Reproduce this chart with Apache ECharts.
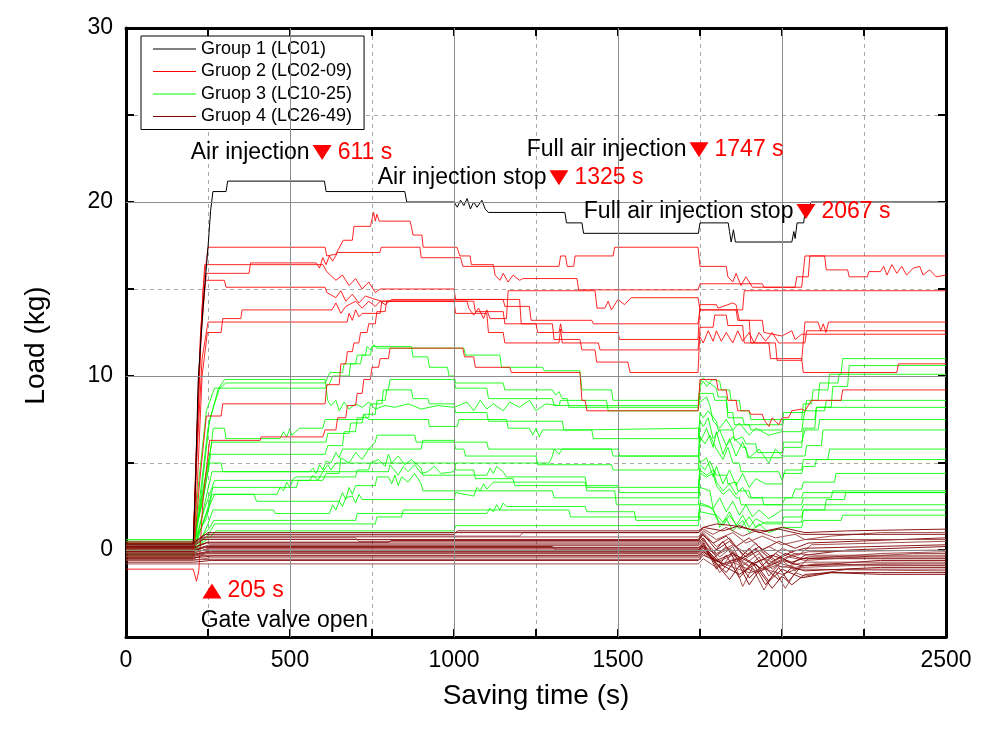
<!DOCTYPE html>
<html>
<head>
<meta charset="utf-8">
<script src="https://cdn.jsdelivr.net/npm/echarts@6/dist/echarts.min.js"></script>
<style>html,body{margin:0;padding:0;background:#fff}#c{width:994px;height:736px}</style>
</head>
<body>
<div id="c"></div>
<script>
const FONT = "'Liberation Sans', Arial, Helvetica, sans-serif";
const legendNames = ['Group 1 (LC01)', 'Gruop 2 (LC02-09)', 'Gruop 3 (LC10-25)', 'Gruop 4 (LC26-49)'];
const groupColors = ['#000000', '#ff0000', '#00ff00', '#800000'];
const xTicks = [0, 500, 1000, 1500, 2000, 2500];
const yTicks = [0, 10, 20, 30];
const solidX = [500, 1000, 1500, 2000];
const solidY = [0, 10, 20];

// Group 1 (LC01)
const group1Line = [[0,0.3],[205,0.3],[212,4],[220,9.7],[235,14],[250,17.4],[258,19.5],[265,20.6],[305,20.6],[310,21.2],[605,21.2],[610,20.6],[850,20.6],[856,20.0],[1000,20.0],[1010,19.7],[1020,20.1],[1030,19.8],[1040,20.2],[1050,19.6],[1060,20.0],[1070,19.7],[1085,20.1],[1095,19.6],[1105,19.4],[1338,19.4],[1343,18.8],[1390,18.8],[1395,18.2],[1745,18.2],[1750,18.8],[1836,18.8],[1840,18.3],[1845,17.7],[1852,18.4],[1858,17.7],[2030,17.7],[2036,18.3],[2040,17.9],[2046,18.8],[2066,18.8],[2070,19.4],[2082,19.4],[2088,20.0],[2500,20.0]];

// Group 2 (LC02-09)
const group2Lines = [
 [[0,0.3],[205,0.3],[212,4],[222,10],[235,15],[250,17.4],[607,17.4],[612,16.9],[640,17.0],[662,17.8],[690,17.8],[695,18.6],[745,18.6],[750,19.0],[755,19.4],[760,18.9],[765,19.3],[772,18.9],[866,18.9],[870,18.6],[875,18.1],[902,18.1],[906,17.4],[1009,17.4],[1018,16.9],[1049,16.9],[1053,16.4],[1120,16.4],[1125,15.8],[1140,15.5],[1150,15.9],[1165,15.4],[1180,15.8],[1200,15.5],[1210,15.6],[1375,15.6],[1380,14.95],[1744,14.95],[1750,15.3],[1940,15.3],[1945,15.1],[2060,15.1],[2070,16.9],[2500,16.9]],
 [[0,0.1],[205,0.1],[215,6],[230,13],[245,15.9],[375,15.9],[380,16.5],[580,16.5],[590,16.2],[600,16.8],[610,16.4],[620,16.9],[630,16.6],[645,17.1],[774,17.1],[778,17.4],[896,17.4],[900,16.8],[1020,16.8],[1027,16.3],[1320,16.3],[1325,16.9],[1340,16.9],[1345,16.3],[1365,16.3],[1369,16.9],[1485,16.9],[1490,17.4],[1744,17.4],[1750,16.3],[1830,16.3],[1835,15.7],[1850,15.4],[1860,15.9],[1875,15.2],[1890,15.7],[1910,15.1],[2040,15.1],[2045,15.7],[2080,15.7],[2085,16.9],[2130,16.9],[2135,16.1],[2200,16.1],[2205,15.7],[2260,15.7],[2265,16.0],[2300,16.0],[2310,16.3],[2320,15.8],[2335,16.4],[2350,15.9],[2365,16.3],[2380,15.8],[2400,16.2],[2420,16.3],[2430,15.8],[2450,16.1],[2470,15.7],[2500,15.8]],
 [[0,0.0],[205,0.0],[215,5],[228,12],[242,15.5],[300,15.5],[305,15.1],[607,15.1],[612,14.8],[640,14.5],[655,14.9],[670,14.3],[690,14.7],[710,14.2],[730,14.6],[760,14.4],[780,14.3],[1040,14.3],[1045,13.9],[1060,13.5],[1075,13.9],[1090,13.3],[1100,13.8],[1110,13.3],[1160,13.3],[1165,14.9],[1430,14.9],[1436,13.9],[1460,13.9],[1470,14.3],[1480,13.8],[1500,14.4],[1520,14.1],[1540,14.5],[1744,14.5],[1750,13.8],[1880,13.8],[1885,14.9],[2500,14.9]],
 [[0,-0.1],[205,-0.1],[218,4],[232,10],[248,12.5],[290,12.5],[295,13.3],[350,13.3],[354,13.8],[628,13.8],[640,14.2],[655,13.6],[670,14.0],[700,14.3],[720,13.9],[740,14.3],[760,14.0],[775,14.3],[790,14.1],[810,14.4],[1150,14.4],[1155,14.0],[1230,14.0],[1235,13.2],[1420,13.2],[1425,13.0],[1744,13.0],[1750,13.8],[1860,13.8],[1865,13.2],[1900,13.2],[1905,11.9],[1980,11.9],[1985,10.9],[2060,10.9],[2070,13.1],[2110,13.1],[2118,12.6],[2126,13.0],[2134,12.5],[2142,13.1],[2500,13.1]],
 [[0,0.2],[205,0.2],[215,5],[232,11],[250,13.1],[674,13.1],[680,13.6],[690,13.2],[700,13.8],[710,13.4],[720,13.6],[775,13.6],[780,14.3],[1000,14.3],[1005,13.6],[1100,13.6],[1105,12.5],[1150,12.5],[1155,11.9],[1320,11.9],[1325,12.7],[1330,11.9],[1440,11.9],[1445,11.5],[1744,11.5],[1748,12.3],[1760,11.9],[1775,12.6],[1790,12.0],[1800,12.6],[1815,12.0],[1830,12.5],[1850,11.9],[1865,12.6],[1880,12.0],[1900,12.5],[1915,11.9],[1930,12.5],[1950,12.0],[1970,12.5],[1990,11.9],[2070,11.9],[2075,12.6],[2500,12.6]],
 [[0,-0.4],[205,-0.4],[225,4],[245,7.7],[290,7.7],[295,8.4],[607,8.4],[612,9.5],[650,9.5],[655,10.7],[670,10.7],[675,11.4],[690,11.4],[695,11.9],[710,11.9],[715,12.5],[735,12.5],[740,13.0],[760,13.0],[765,13.7],[790,13.7],[795,14.3],[1060,14.3],[1065,13.7],[1150,13.7],[1155,13.0],[1250,13.0],[1255,12.5],[1320,12.5],[1325,13.0],[1330,12.5],[1500,12.5],[1505,12.1],[1744,12.1],[1750,14.1],[1800,14.1],[1805,13.9],[1850,14.2],[1860,14.1],[1870,13.2],[1940,13.2],[1945,12.5],[2000,12.3],[2030,12.6],[2040,12.1],[2060,12.4],[2500,12.4]],
 [[0,-1.1],[205,-1.1],[215,-1.8],[222,-1.2],[235,3],[255,6.3],[409,6.3],[412,6.5],[600,6.5],[607,6.9],[640,6.9],[645,7.6],[670,7.6],[675,8.3],[700,8.3],[705,9.0],[720,9.0],[725,9.8],[745,9.8],[750,10.5],[770,10.5],[775,11.0],[800,11.0],[805,11.6],[1027,11.6],[1032,11.1],[1060,11.1],[1065,10.5],[1170,10.5],[1175,10.2],[1384,10.2],[1390,8.6],[1400,8.6],[1405,8.0],[1744,8.0],[1750,9.8],[1800,9.8],[1805,9.2],[1830,9.2],[1835,8.6],[1860,8.6],[1865,8.0],[1900,8.0],[1905,7.8],[1940,7.8],[1945,7.5],[1960,7.1],[1970,7.6],[1990,7.2],[2000,7.6],[2020,7.6],[2030,8.0],[2060,8.1],[2070,8.0],[2090,8.6],[2180,8.6],[2185,9.2],[2500,9.2]],
 [[0,0.4],[205,0.4],[213,5],[226,12],[240,16.4],[600,16.4],[612,16.0],[640,15.5],[660,15.8],[680,15.2],[700,15.6],[720,15.0],[740,15.4],[760,14.8],[775,15.0],[1000,15.0],[1005,14.4],[1200,14.4],[1205,13.0],[1300,13.0],[1305,12.1],[1384,12.1],[1390,11.5],[1430,11.5],[1435,10.8],[1530,10.8],[1537,10.2],[1744,10.2],[1750,12.8],[1790,12.8],[1795,13.5],[1830,13.5],[1835,12.9],[1880,12.9],[1885,11.9],[1960,11.9],[1965,11.0],[2060,11.0],[2065,10.2],[2350,10.2],[2355,10.7],[2500,10.7]]
];

// Group 3 (LC10-25)
const group3Lines = [
 [[0,0.2],[205,0.2],[225,3],[250,7],[280,9.2],[300,9.8],[607,9.8],[615,8.6],[625,8.3],[640,8.6],[650,8.0],[665,8.5],[680,8.1],[700,8.4],[720,8.2],[740,8.5],[760,8.1],[790,8.3],[820,8.2],[860,8.4],[900,8.1],[950,8.3],[1000,8.2],[1040,8.5],[1060,8.0],[1080,8.6],[1100,8.1],[1120,8.4],[1150,8.0],[1170,8.5],[1200,8.2],[1230,8.6],[1250,8.0],[1280,8.4],[1320,8.3],[1325,8.6],[1465,8.6],[1470,8.0],[1745,8.0],[1750,9.6],[1760,9.9],[1775,9.6],[1790,9.8],[1810,9.7],[1815,9.2],[1840,9.2],[1845,8.6],[1870,8.6],[1875,8.0],[1900,8.0],[1905,7.5],[2065,7.5],[2070,8.0],[2130,8.0],[2135,8.6],[2500,8.6]],
 [[0,0.0],[205,0],[228,3],[255,7.5],[285,9.3],[305,9.6],[607,9.6],[622,10.2],[660,10.2],[665,10.7],[700,10.7],[705,11.2],[730,11.2],[735,11.7],[745,11.5],[755,11.8],[765,11.6],[1030,11.6],[1035,11.2],[1140,11.2],[1145,10.5],[1270,10.5],[1275,10.3],[1384,10.3],[1390,9.2],[1480,9.2],[1485,8.6],[1745,8.6],[1750,9.4],[1760,9.7],[1770,9.4],[1780,9.6],[1800,9.3],[1805,8.8],[1830,8.8],[1835,7.9],[1850,7.9],[1855,7.2],[1900,7.2],[1905,6.9],[2000,6.9],[2005,7.5],[2060,7.5],[2065,8.4],[2090,8.4],[2095,9.2],[2140,9.2],[2145,10.1],[2180,10.1],[2185,11.0],[2500,11.0]],
 [[0,0.3],[205,0.3],[222,4],[245,8],[270,9.3],[607,9.3],[622,9.6],[630,10.0],[680,10.0],[685,10.7],[715,10.7],[720,11.2],[745,11.2],[750,11.7],[870,11.7],[875,11.1],[920,11.1],[925,10.5],[980,10.5],[985,10.0],[1000,10.0],[1005,9.6],[1150,9.6],[1155,9.2],[1300,9.2],[1310,8.9],[1320,9.1],[1330,8.7],[1345,8.7],[1350,8.2],[1745,8.2],[1750,9.0],[1790,9.0],[1795,8.6],[1830,8.6],[1835,7.6],[1880,7.6],[1885,7.2],[2000,7.2],[2005,7.9],[2070,7.9],[2075,8.6],[2110,8.6],[2115,9.6],[2170,9.6],[2175,10.1],[2500,10.1]],
 [[0,0.1],[205,0.1],[230,3],[260,6.0],[266,7.0],[300,7.0],[305,6.4],[470,6.4],[480,6.8],[490,6.5],[500,7.0],[505,6.6],[530,7.0],[600,7.0],[607,7.5],[720,7.5],[725,7.8],[740,7.5],[922,7.5],[925,7.1],[1010,7.1],[1015,7.5],[1160,7.5],[1165,7.0],[1230,7.0],[1240,6.6],[1250,7.0],[1260,6.5],[1270,6.9],[1384,6.9],[1390,7.0],[1745,7.0],[1750,6.2],[1770,7.0],[1790,5.9],[1800,6.8],[1820,5.5],[1840,6.4],[1860,5.4],[1880,6.2],[1900,5.3],[1930,5.8],[1960,5.0],[1980,5.8],[2000,5.4],[2070,5.4],[2075,6.0],[2120,6.0],[2125,6.9],[2500,6.9]],
 [[0,-0.1],[205,-0.1],[232,3],[262,6.2],[610,6.2],[615,6.7],[680,6.7],[685,7.3],[720,7.3],[725,7.8],[760,7.8],[765,8.6],[790,8.6],[795,9.2],[870,9.2],[875,8.7],[920,8.7],[925,8.4],[1000,8.4],[1005,7.9],[1100,7.9],[1105,7.4],[1330,7.4],[1335,6.9],[1420,6.9],[1425,6.4],[1745,6.4],[1750,7.9],[1760,7.6],[1775,8.0],[1800,7.4],[1805,6.9],[1850,6.9],[1855,6.3],[1880,6.5],[1890,6.1],[1920,6.1],[1925,5.6],[2000,5.6],[2005,6.2],[2060,6.2],[2070,6.9],[2110,6.9],[2115,7.5],[2500,7.5]],
 [[0,0.4],[205,0.4],[235,3],[255,5.0],[290,5.0],[295,4.5],[560,4.5],[570,4.7],[580,4.4],[590,4.9],[600,4.6],[610,5.1],[625,5.0],[640,5.6],[650,5.3],[660,5.8],[900,5.8],[905,6.3],[1000,6.3],[1005,5.8],[1030,5.8],[1035,5.4],[1250,5.4],[1255,4.9],[1480,4.9],[1485,4.6],[1745,4.6],[1750,6.5],[1765,6.1],[1780,6.6],[1800,5.8],[1820,5.2],[1835,5.9],[1850,5.0],[1870,5.0],[1875,4.5],[1990,4.5],[2000,4.0],[2010,4.6],[2060,4.6],[2065,5.2],[2140,5.2],[2145,5.8],[2500,5.8]],
 [[0,-0.3],[205,-0.3],[238,2.5],[262,4.5],[800,4.5],[805,4.9],[830,4.3],[845,4.8],[860,4.5],[880,4.9],[900,4.4],[920,4.5],[940,4.8],[960,4.4],[1000,4.5],[1005,5.0],[1290,5.0],[1300,5.4],[1305,5.8],[1320,5.5],[1330,5.8],[1480,5.8],[1485,5.4],[1745,5.4],[1750,5.0],[1770,5.3],[1790,4.2],[1800,4.8],[1820,3.8],[1840,4.6],[1860,3.7],[1880,4.4],[1900,3.6],[1920,4.1],[1950,3.8],[2000,3.8],[2005,4.4],[2060,4.4],[2065,4.8],[2100,4.8],[2105,5.2],[2500,5.2]],
 [[0,0.2],[205,0.2],[240,2.4],[270,4.0],[560,4.0],[570,4.3],[585,4.0],[600,4.5],[615,4.9],[625,4.6],[640,5.0],[1000,5.0],[1005,4.6],[1060,4.6],[1065,4.1],[1180,4.1],[1185,3.7],[1500,3.7],[1505,3.3],[1745,3.3],[1750,4.9],[1765,4.6],[1780,5.1],[1800,4.3],[1830,4.3],[1835,3.8],[1860,3.9],[1865,3.4],[1900,3.4],[1905,3.0],[2030,3.0],[2040,3.5],[2060,3.5],[2065,3.9],[2160,3.9],[2165,4.4],[2500,4.4]],
 [[0,-0.2],[205,-0.2],[242,2],[270,3.2],[460,3.2],[470,3.6],[480,3.4],[490,3.9],[500,3.6],[510,4.1],[520,4.2],[700,4.2],[705,4.6],[740,4.6],[745,5.0],[770,5.2],[790,4.8],[800,5.5],[810,5.0],[830,5.4],[850,4.9],[870,5.2],[900,4.7],[905,4.3],[1100,4.3],[1110,4.7],[1120,4.4],[1130,4.8],[1150,4.5],[1160,4.2],[1400,4.2],[1405,3.6],[1745,3.6],[1750,4.6],[1770,4.3],[1790,4.6],[1800,3.9],[1820,3.4],[1840,3.8],[1860,3.2],[1880,3.6],[1900,3.0],[1940,3.0],[1945,2.6],[2060,2.6],[2065,3.0],[2150,3.0],[2155,3.4],[2500,3.4]],
 [[0,0.5],[205,0.5],[245,1.8],[262,3.2],[390,3.2],[398,2.8],[650,2.8],[660,3.3],[670,2.9],[680,3.6],[690,3.2],[700,3.7],[760,3.7],[765,4.2],[800,4.2],[810,3.8],[820,4.3],[830,3.7],[840,4.2],[860,3.9],[880,4.4],[900,3.8],[905,3.4],[1300,3.4],[1305,3.0],[1745,3.0],[1750,4.4],[1770,4.2],[1790,4.4],[1800,3.7],[1820,3.2],[1840,3.5],[1860,3.0],[1870,3.0],[1875,2.6],[2000,2.6],[2010,3.0],[2060,3.0],[2065,3.3],[2500,3.3]],
 [[0,-0.4],[205,-0.4],[250,1.5],[265,2.3],[450,2.3],[455,2.1],[620,2.1],[630,2.6],[640,2.3],[650,2.8],[660,2.5],[670,3.0],[690,3.1],[700,2.7],[710,3.2],[720,2.9],[1000,2.9],[1005,3.3],[1060,3.1],[1070,3.6],[1080,3.4],[1090,3.8],[1100,3.5],[1120,3.9],[1400,3.9],[1405,3.4],[1490,3.4],[1495,2.6],[1745,2.6],[1750,3.6],[1780,3.4],[1790,2.4],[1810,3.0],[1830,2.2],[1850,2.8],[1870,2.0],[1890,2.6],[1910,1.9],[1930,2.3],[1960,1.8],[2000,2.3],[2060,2.3],[2065,2.6],[2500,2.6]],
 [[0,0.3],[205,0.3],[252,1.2],[268,1.7],[700,1.7],[705,2.1],[1100,2.1],[1110,2.4],[1120,2.2],[1130,2.6],[1140,2.3],[1150,2.7],[1160,2.5],[1400,2.5],[1405,2.2],[1550,2.2],[1555,1.7],[1745,1.7],[1750,2.7],[1780,2.5],[1800,2.0],[1820,1.6],[1840,2.2],[1860,1.4],[1880,2.0],[1900,1.3],[1920,1.8],[1950,1.5],[2000,1.5],[2005,1.9],[2060,1.9],[2065,2.3],[2500,2.3]],
 [[0,-0.1],[205,-0.1],[255,1.0],[270,1.5],[760,1.5],[765,1.9],[840,1.9],[845,2.3],[1350,2.3],[1355,1.9],[1745,1.9],[1750,2.6],[1790,2.4],[1800,1.8],[1820,1.4],[1840,2.0],[1870,1.2],[1900,1.9],[1920,1.3],[1950,1.6],[2060,1.6],[2065,2.3],[2130,2.3],[2135,2.9],[2190,2.9],[2195,3.3],[2500,3.3]],
 [[0,0.0],[205,0],[260,0.8],[275,1.1],[1000,1.1],[1005,1.4],[1745,1.4],[1750,2.2],[1800,2.0],[1810,1.3],[1830,1.8],[1850,1.1],[1880,1.7],[1900,1.0],[1930,1.5],[1960,1.0],[2000,1.3],[2060,1.3],[2065,1.7],[2180,1.7],[2185,2.0],[2500,2.0]],
 [[0,0.6],[205,0.6],[236,3],[258,5.5],[607,5.5],[615,6.0],[660,6.0],[665,6.8],[700,6.8],[705,7.6],[740,7.6],[745,8.4],[780,8.4],[785,9.2],[800,9.2],[805,9.8],[1000,9.8],[1005,9.3],[1100,9.3],[1105,8.7],[1300,8.7],[1305,8.3],[1745,8.3],[1750,8.5],[1770,8.8],[1780,8.3],[1790,7.4],[1810,7.0],[1830,7.5],[1850,6.9],[1870,7.3],[1900,6.6],[1920,7.0],[1960,6.6],[2000,6.8],[2060,6.8],[2065,7.5],[2100,7.5],[2105,8.2],[2500,8.2]],
 [[0,0.1],[205,0.1],[244,2],[265,3.6],[520,3.6],[525,4.0],[600,4.0],[610,4.4],[650,4.4],[655,5.3],[680,5.0],[700,5.6],[720,5.2],[740,5.8],[760,6.2],[765,6.6],[880,6.6],[885,6.2],[1100,6.2],[1105,5.8],[1500,5.8],[1505,5.4],[1745,5.4],[1750,7.4],[1760,7.1],[1775,7.6],[1790,6.4],[1810,6.9],[1830,6.0],[1850,6.5],[1880,5.9],[1890,5.9],[1895,5.3],[2000,5.3],[2005,5.9],[2060,5.9],[2065,7.0],[2100,7.0],[2105,8.2],[2150,8.2],[2155,9.4],[2200,9.4],[2205,10.6],[2500,10.6]]
];

// Group 4 (LC26-49)
const group4Lines = [
 [[0,0.4],[205,0.4],[240,0.9],[1000,0.9],[1010,1.1],[1745,1.1],[1760,1.3],[1800,1.5],[1850,1.4],[1900,1.2],[1950,1.1],[2000,1.3],[2070,1.0],[2200,1.1],[2500,1.2]],
 [[0,0.3],[205,0.3],[250,0.8],[1200,0.8],[1210,1.0],[1745,1.0],[1760,1.2],[1790,0.9],[1830,1.3],[1880,0.8],[1920,1.1],[1980,0.7],[2040,0.9],[2070,0.6],[2150,0.8],[2300,1.0],[2500,1.0]],
 [[0,0.2],[205,0.2],[235,0.6],[1745,0.6],[1755,0.9],[1790,0.4],[1830,0.8],[1860,0.2],[1900,0.7],[1940,0.0],[1990,0.5],[2040,0.1],[2080,0.4],[2500,0.7]],
 [[0,0.5],[205,0.5],[230,0.7],[700,0.7],[710,0.5],[1745,0.5],[1760,1.0],[1800,0.2],[1840,0.7],[1880,-0.3],[1920,0.4],[1960,-0.5],[2000,0.1],[2050,-0.3],[2090,0.3],[2500,0.5]],
 [[0,0.1],[205,0.1],[245,0.4],[1745,0.4],[1760,0.7],[1790,-0.2],[1820,0.5],[1860,-0.7],[1900,0.1],[1940,-0.9],[1980,-0.2],[2030,-0.8],[2070,-0.3],[2200,0.0],[2500,0.2]],
 [[0,0.0],[205,0.0],[255,0.3],[1745,0.3],[1750,0.8],[1780,0.1],[1820,-0.9],[1850,-0.1],[1890,-1.2],[1930,-0.4],[1960,-1.5],[2000,-0.6],[2040,-1.2],[2080,-0.5],[2300,-0.2],[2500,-0.1]],
 [[0,-0.1],[205,-0.1],[240,0.2],[1300,0.2],[1310,0.0],[1745,0.0],[1760,0.4],[1800,-1.1],[1830,-0.3],[1870,-1.6],[1910,-0.7],[1950,-2.0],[1990,-1.0],[2020,-1.8],[2060,-0.9],[2150,-0.8],[2300,-0.6],[2500,-0.6]],
 [[0,-0.2],[205,-0.2],[250,0.1],[1745,0.1],[1760,0.5],[1810,-1.3],[1850,-0.5],[1880,-2.1],[1910,-1.0],[1945,-2.3],[1980,-1.2],[2010,-2.2],[2040,-1.3],[2070,-1.5],[2200,-1.1],[2500,-1.1]],
 [[0,-0.3],[205,-0.3],[260,-0.1],[1745,-0.1],[1760,0.3],[1800,-0.8],[1840,-1.7],[1870,-0.9],[1900,-2.0],[1930,-1.2],[1970,-2.2],[2000,-1.5],[2030,-2.0],[2070,-1.4],[2150,-1.3],[2300,-1.4],[2500,-1.4]],
 [[0,-0.4],[205,-0.4],[245,-0.2],[1745,-0.2],[1760,0.1],[1800,-0.6],[1850,-1.0],[1900,-1.3],[1950,-1.1],[2000,-1.4],[2060,-1.0],[2200,-0.9],[2500,-0.9]],
 [[0,-0.5],[205,-0.5],[235,-0.3],[1745,-0.3],[1760,0.0],[1790,-0.5],[1830,0.2],[1870,-0.6],[1920,0.1],[1960,-0.8],[2010,-0.2],[2060,-0.5],[2300,-0.5],[2500,-0.5]],
 [[0,-0.6],[205,-0.6],[255,-0.45],[1745,-0.45],[1760,-0.1],[1800,-0.7],[1850,-0.3],[1900,-0.9],[1950,-0.5],[2000,-1.0],[2070,-0.7],[2500,-0.7]],
 [[0,-0.7],[205,-0.7],[260,-0.6],[1745,-0.6],[1760,-0.3],[1820,-0.8],[1880,-0.4],[1940,-1.1],[2000,-0.6],[2060,-0.9],[2300,-0.8],[2500,-0.8]],
 [[0,-0.8],[205,-0.8],[265,-0.8],[1745,-0.8],[1760,-0.5],[1800,-1.0],[1850,-0.7],[1920,-1.3],[1980,-0.9],[2060,-1.1],[2500,-1.2]],
 [[0,0.35],[205,0.35],[250,1.0],[1745,1.0],[1760,1.3],[1820,1.1],[1870,1.4],[1930,1.0],[1990,1.2],[2060,0.9],[2500,0.9]],
 [[0,0.25],[205,0.25],[238,0.75],[1745,0.75],[1760,1.1],[1800,0.6],[1850,1.0],[1890,0.4],[1940,0.8],[2000,0.3],[2070,0.6],[2500,0.6]],
 [[0,0.15],[205,0.15],[248,0.45],[800,0.45],[810,0.55],[1745,0.55],[1760,0.9],[1800,0.0],[1840,0.5],[1890,-0.4],[1930,0.2],[1980,-0.6],[2030,-0.1],[2070,0.1],[2500,0.3]],
 [[0,0.05],[205,0.05],[256,0.25],[1745,0.25],[1760,0.6],[1810,-0.4],[1850,0.2],[1880,-0.9],[1930,-0.2],[1970,-1.1],[2020,-0.4],[2070,-0.6],[2400,-0.2],[2500,-0.2]],
 [[0,-0.05],[205,-0.05],[242,0.15],[1745,0.15],[1760,0.2],[1790,-0.6],[1830,-1.3],[1860,-0.5],[1900,-1.6],[1940,-0.9],[1990,-1.7],[2030,-1.0],[2070,-1.2],[2300,-1.0],[2500,-1.0]],
 [[0,-0.15],[205,-0.15],[252,0.05],[1745,0.05],[1760,0.3],[1800,-0.3],[1840,0.1],[1880,-0.6],[1930,0.0],[1980,-0.7],[2040,-0.2],[2100,-0.3],[2500,-0.3]],
 [[0,-0.25],[205,-0.25],[258,-0.05],[1745,-0.05],[1760,0.2],[1820,-0.9],[1870,-1.4],[1920,-0.8],[1960,-1.8],[2000,-1.1],[2060,-1.6],[2150,-1.3],[2500,-1.3]],
 [[0,-0.35],[205,-0.35],[246,-0.15],[1745,-0.15],[1760,0.1],[1800,-0.2],[1850,0.3],[1900,-0.3],[1960,0.2],[2020,-0.4],[2080,-0.1],[2500,0.0]],
 [[0,-0.45],[205,-0.45],[262,-0.35],[1745,-0.35],[1760,-0.1],[1800,-0.6],[1850,-0.2],[1910,-0.8],[1970,-0.3],[2030,-0.7],[2080,-0.4],[2500,-0.4]],
 [[0,-0.55],[205,-0.55],[270,-0.55],[1745,-0.55],[1760,-0.2],[1810,-0.9],[1860,-0.5],[1920,-1.2],[1980,-0.7],[2040,-1.0],[2100,-0.8],[2500,-0.9]]
];

// Annotations (event marker positions and texts)
const annX = [598, 1320, 1747, 2073];
const annY = [22.85, 21.4, 23.0, 19.45];
const annText = ['Air injection', 'Air injection stop', 'Full air injection', 'Full air injection stop'];
const annValue = ['611 s', '1325 s', '1747 s', '2067 s'];
const gateMark = [262, -2.36];
const gateValue = '205 s';
const gateTextPos = [226, -4.07];
const gateText = 'Gate valve open';

function lineSeries(name, data, color, opacity) {
  return {
    name: name, type: 'line', data: data, symbol: 'none', showSymbol: false,
    silent: true, animation: false, z: 2,
    lineStyle: { color: color, width: 1, opacity: opacity },
    itemStyle: { color: color }
  };
}

const series = [];
series.push({
  type: 'line', data: [], silent: true, z: 1, animation: false,
  markLine: {
    silent: true, symbol: 'none', label: { show: false }, animation: false,
    lineStyle: { color: '#8c8c8c', type: 'solid', width: 1 },
    data: solidX.map(v => ({ xAxis: v })).concat(solidY.map(v => ({ yAxis: v })))
  }
});
group3Lines.forEach(d => series.push(lineSeries(legendNames[2], d, groupColors[2], 0.85)));
group2Lines.forEach(d => series.push(lineSeries(legendNames[1], d, groupColors[1], 0.85)));
series.push(lineSeries(legendNames[0], group1Line, groupColors[0], 1));
group4Lines.forEach((d, i) => series.push(lineSeries(legendNames[3], d, i % 2 ? '#9a3c3c' : groupColors[3], 0.9)));

const annPts = annX.map((x, i) => [x, annY[i]]);
const clear = 'rgba(255,255,255,0)';
series.push({
  type: 'scatter', data: annPts, symbol: 'triangle', symbolRotate: 180, symbolSize: [19, 15],
  itemStyle: { color: '#ff0000', opacity: 1 }, silent: true, z: 20, animation: false,
  label: { show: true, position: 'right', distance: 6, color: '#ff0000', fontSize: 23, fontFamily: FONT,
           opacity: 1, formatter: p => annValue[p.dataIndex] }
});
series.push({
  type: 'scatter', data: annPts, symbol: 'rect', symbolSize: [19, 15],
  itemStyle: { color: clear, opacity: 1 }, silent: true, z: 20, animation: false,
  label: { show: true, position: 'left', distance: 3, color: '#000000', fontSize: 23, fontFamily: FONT,
           opacity: 1, formatter: p => annText[p.dataIndex] }
});
series.push({
  type: 'scatter', data: [gateMark], symbol: 'triangle', symbolSize: [19, 15],
  itemStyle: { color: '#ff0000', opacity: 1 }, silent: true, z: 20, animation: false,
  label: { show: true, position: 'right', distance: 6, color: '#ff0000', fontSize: 23, fontFamily: FONT,
           opacity: 1, formatter: () => gateValue }
});
series.push({
  type: 'scatter', data: [gateTextPos], symbol: 'rect', symbolSize: 1,
  itemStyle: { color: clear, opacity: 1 }, silent: true, z: 20, animation: false,
  label: { show: true, position: 'right', distance: 0, color: '#000000', fontSize: 23, fontFamily: FONT,
           opacity: 1, formatter: () => gateText }
});

const axisLineStyle = { show: true, onZero: false, lineStyle: { color: '#000', width: 3 } };
const tickStyle = { show: true, inside: true, length: 8, lineStyle: { color: '#000', width: 2 } };
const dashed = { show: true, lineStyle: { color: '#a6a6a6', type: [4, 4], width: 1 } };

const option = {
  backgroundColor: '#ffffff',
  animation: false,
  textStyle: { fontFamily: FONT },
  grid: { left: 126, right: 48, top: 28, bottom: 99, containLabel: false },
  legend: {
    data: legendNames.map((n, i) => ({ name: n, icon: 'rect', itemStyle: { color: groupColors[i] } })),
    orient: 'vertical', left: 141, top: 36,
    backgroundColor: '#fff', borderColor: '#000', borderWidth: 1,
    padding: [4, 12, 4, 12], itemGap: 4.5, itemWidth: 43, itemHeight: 1.2,
    textStyle: { fontSize: 18, color: '#000', fontFamily: FONT, lineHeight: 18 },
    selectedMode: false
  },
  xAxis: [
    { type: 'value', min: 0, max: 2500, interval: 250, position: 'bottom',
      axisLine: axisLineStyle, axisTick: tickStyle, splitLine: dashed,
      axisLabel: { fontSize: 23, color: '#000', margin: 12, fontFamily: FONT,
                   formatter: v => (xTicks.indexOf(v) >= 0 ? String(v) : '') },
      name: 'Saving time (s)', nameLocation: 'middle', nameGap: 45,
      nameTextStyle: { fontSize: 28, color: '#000', fontFamily: FONT } },
    { type: 'value', min: 0, max: 2500, interval: 250, position: 'top',
      axisLine: axisLineStyle, axisTick: tickStyle, splitLine: { show: false },
      axisLabel: { show: false } }
  ],
  yAxis: [
    { type: 'value', min: -5, max: 30, interval: 5, position: 'left',
      axisLine: axisLineStyle, axisTick: tickStyle, splitLine: dashed,
      axisLabel: { fontSize: 23, color: '#000', margin: 13, fontFamily: FONT,
                   formatter: v => (yTicks.indexOf(v) >= 0 ? String(v) : '') },
      name: 'Load (kg)', nameLocation: 'middle', nameGap: 76,
      nameTextStyle: { fontSize: 28, color: '#000', fontFamily: FONT, padding: [0, 26, 0, 0] } },
    { type: 'value', min: -5, max: 30, interval: 5, position: 'right',
      axisLine: axisLineStyle, axisTick: tickStyle, splitLine: { show: false },
      axisLabel: { show: false } }
  ],
  series: series
};

const chart = echarts.init(document.getElementById('c'), null, { renderer: 'canvas' });
chart.setOption(option);
</script>
</body>
</html>
